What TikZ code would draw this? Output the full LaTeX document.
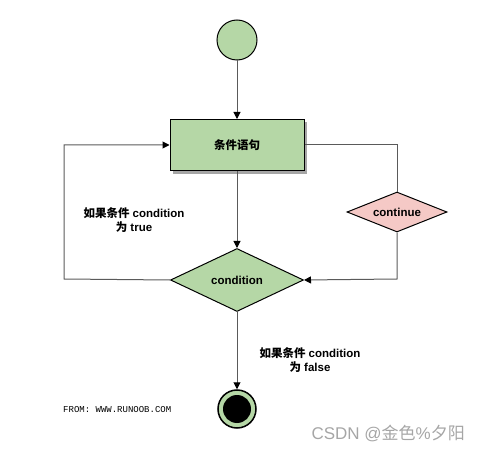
\documentclass[tikz,border=0pt]{standalone}
\usepackage{fontspec}
\setmainfont{Liberation Sans}
\setmonofont{Liberation Mono}
\newfontfamily\cjk{Noto Sans CJK SC}
\usetikzlibrary{arrows.meta,shapes.geometric,shadows}
\definecolor{gfill}{HTML}{B5D7A6}
\definecolor{pfill}{HTML}{F5C9C6}
\definecolor{lgray}{HTML}{5A5A5A}
\tikzset{
  conn/.style={draw=lgray, line width=1pt},
  arr/.style={conn, -{Triangle[length=7pt,width=7pt,color=black]}},
  lbl/.style={font=\bfseries\fontsize{11.5}{14}\selectfont, align=center},
  dia/.style={diamond, draw=black, line width=1pt, inner sep=0pt, aspect=3.3, font=\bfseries\fontsize{11.5}{14}\selectfont},
}
\begin{document}
\begin{tikzpicture}[x=1pt,y=-1pt]
\useasboundingbox (0,0) rectangle (480,452);
\node[circle, draw=black, line width=1pt, fill=gfill, minimum size=40pt, inner sep=0pt] (start) at (237,40) {};
\node[rectangle, draw=black, line width=1pt, fill=gfill, minimum width=134pt, minimum height=51pt,
  drop shadow={shadow xshift=3pt, shadow yshift=-3pt, fill=gray!70, opacity=1},
  font=\bfseries\fontsize{11.5}{14}\selectfont] (stmt) at (237,145) {\cjk 条件语句};
\node[dia, fill=gfill, minimum width=133pt, minimum height=63pt] (cond) at (237,280) {condition};
\node[dia, fill=pfill, minimum width=100pt, minimum height=40pt] (cont) at (397,212) {continue};
\node[circle, draw=black, line width=1.5pt, fill=gfill, minimum size=38pt, inner sep=0pt] (end) at (237,409) {};
\fill[black] (end.center) circle (14pt);
\coordinate (lc1) at (64,279);
\coordinate (lc2) at (64,145);
\coordinate (rc1) at (397,145);
\coordinate (rc2) at (397,279);
\draw[arr] (start) -- (stmt);
\draw[arr] (stmt) -- (cond);
\draw[arr] (cond) -- (end);
\draw[arr] (cond.west) -- (lc1) -- (lc2) -- (stmt.west);
\draw[conn] (stmt.east) -- (rc1) -- (cont.north);
\draw[arr] (cont.south) -- (rc2) -- (cond.east);
\node[lbl] (ltrue) at (134,220) {{\cjk 如果条件} condition\\{\cjk 为} true};
\node[lbl] (lfalse) at (310,360) {{\cjk 如果条件} condition\\{\cjk 为} false};
\node[font=\ttfamily\fontsize{9}{10}\selectfont, anchor=west, inner sep=0pt] (from) at (63,410) {FROM: WWW.RUNOOB.COM};
\node[font=\fontsize{17}{19}\selectfont, text=gray!70, anchor=east, inner sep=0pt] (wm) at (465,433) {CSDN @{\cjk 金色}\%{\cjk 夕阳}};
\end{tikzpicture}
\end{document}
